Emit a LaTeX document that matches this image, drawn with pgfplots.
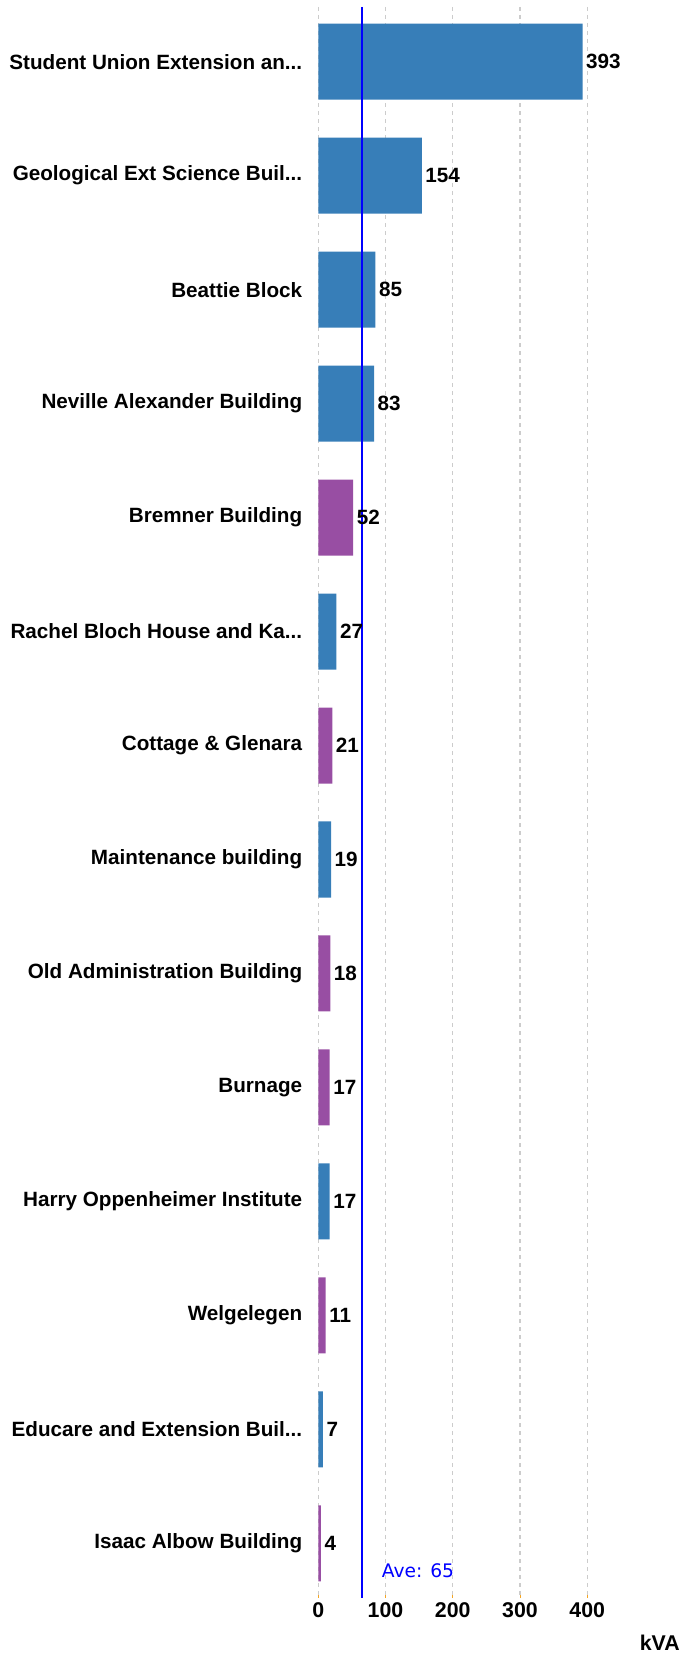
\documentclass[border=0pt]{standalone}
\usepackage{pgfplots}
\pgfplotsset{compat=1.18}
\usepackage{fontspec}
\setmainfont{Liberation Sans}
\newfontfamily\avefont{DejaVu Sans}
\definecolor{barblue}{HTML}{377EB8}
\definecolor{barpurple}{HTML}{984EA3}
\definecolor{gridgray}{HTML}{CCCCCC}
\definecolor{tickorange}{HTML}{F5A623}
\newcommand\dd{.\kern0pt.\kern0pt.}
\begin{document}
\begin{tikzpicture}
\begin{axis}[
    at={(0,0)}, anchor=south west,
    scale only axis,
    width=211.84pt,
    height=1193.25pt,
    xmin=0, xmax=420,
    ymin=-0.48, ymax=13.48,
    y dir=reverse,
    bar width=0.667,
    axis line style={draw=none},
    xtick={0,100,200,300,400},
    xtick pos=bottom,
    major tick length=2pt,
    xtick style={tickorange, line width=0.6pt},
    ytick={0,...,13},
    ytick style={draw=none},
    yticklabels={
        {Student Union Extension an\dd},
        {Geological Ext Science Buil\dd},
        Beattie Block,
        Neville Alexander Building,
        Bremner Building,
        {Rachel Bloch House and Ka\dd},
        Cottage \& Glenara,
        Maintenance building,
        Old Administration Building,
        Burnage,
        Harry Oppenheimer Institute,
        Welgelegen,
        {Educare and Extension Buil\dd},
        Isaac Albow Building},
    yticklabel style={font=\bfseries\fontsize{15.5}{18}\selectfont, xshift=-8.5pt},
    xticklabel style={font=\bfseries\fontsize{16}{19}\selectfont},
    /pgf/number format/assume math mode=true,
    xmajorgrids,
    grid style={gridgray, dashed, line width=0.8pt},
    clip=false,
]
\addplot[xbar, bar shift=0pt, fill=barblue, draw=none,
    nodes near coords,
    every node near coord/.append style={font=\bfseries\fontsize{15.5}{18}\selectfont, black, inner sep=2.5pt}]
    coordinates {(393,0) (154,1) (85,2) (83,3) (27,5) (19,7) (17,10) (7,12)};
\addplot[xbar, bar shift=0pt, fill=barpurple, draw=none,
    nodes near coords,
    every node near coord/.append style={font=\bfseries\fontsize{15.5}{18}\selectfont, black, inner sep=2.5pt}]
    coordinates {(52,4) (21,6) (18,8) (17,9) (11,11) (4,13)};
\addplot[sharp plot, blue, line width=1.8pt, mark=none] coordinates {(65,-0.48) (65,13.48)};
\node[anchor=west, text=blue, font=\avefont\fontsize{14}{16}\selectfont, inner sep=0pt] at (axis cs:94.3,13.24) {Ave: 65};
\end{axis}
\node[anchor=east, inner sep=0pt, font=\bfseries\fontsize{16}{19}\selectfont] at (271.3pt,-33.75pt) {kVA};
\pgfresetboundingbox
\path (-238.7pt,-42pt) rectangle (274.3pt,1198.5pt);
\end{tikzpicture}
\end{document}
